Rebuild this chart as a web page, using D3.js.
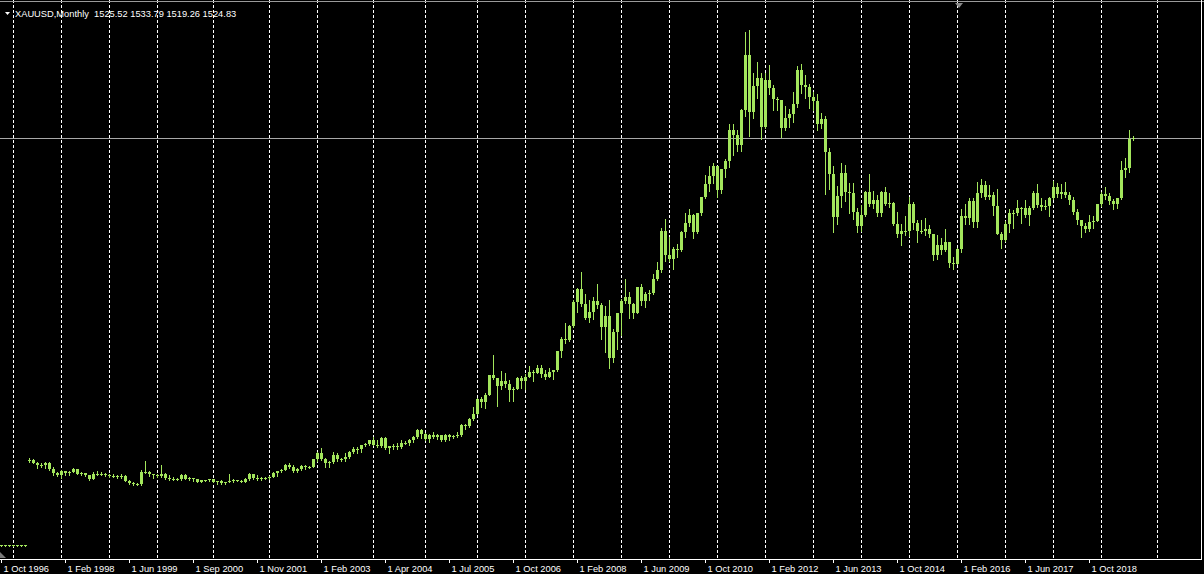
<!DOCTYPE html>
<html>
<head>
<meta charset="utf-8">
<script src="https://cdn.jsdelivr.net/npm/d3@7"></script>
<style>
  html, body { margin: 0; padding: 0; background: #000; }
  svg { display: block; }
</style>
</head>
<body>
<svg id="chart" width="1204" height="574"></svg>
<script>
// ---- DATA (bar order as in the chart; first 7 bars are the broker's bad low-value bars) ----
const symbolTitle = "XAUUSD,Monthly";
const lastQuote = "1525.52 1533.79 1519.26 1524.83";
const bidPrice = 1524.83;

const opens = [
  31,31,31,31,31,31,31,
  340,345,334,326,325,332,311,296,
  290,303,297,301,310,293,296,288,273,294,292,294,
  288,287,287,280,286,268,261,255,255,299,300,292,
  290,284,293,278,275,273,273,288,276,278,273,264,269,270,
  273,265,267,258,263,266,270,268,265,273,293,279,275,277,
  279,282,297,302,308,326,318,304,312,323,317,319,
  347,368,348,334,336,364,346,348,354,375,385,386,398,402,
  417,400,397,424,387,394,395,392,408,407,416,429,453,
  438,422,435,428,435,417,436,430,431,434,473,470,495,
  513,569,556,582,654,643,614,633,623,599,604,646,
  632,650,665,662,680,659,650,666,673,743,789,783,
  834,923,972,916,864,885,928,912,833,871,718,815,
  882,928,942,916,883,979,926,954,955,1008,1040,1182,
  1096,1081,1118,1113,1180,1213,1244,1181,1248,1307,1357,1386,
  1421,1333,1410,1439,1556,1536,1500,1628,1828,1620,1716,1746,
  1565,1738,1710,1669,1664,1560,1598,1614,1648,1773,1719,1713,
  1675,1662,1578,1596,1472,1393,1234,1313,1395,1327,1323,1253,
  1202,1244,1326,1284,1296,1250,1327,1282,1287,1211,1171,1182,
  1184,1283,1213,1183,1184,1190,1172,1095,1134,1115,1142,1065,
  1061,1117,1238,1233,1293,1215,1322,1351,1309,1316,1277,1173,
  1152,1211,1249,1249,1268,1269,1242,1269,1322,1280,1271,1275,
  1303,1345,1318,1325,1315,1299,1253,1224,1201,1192,1215,1222,
  1282,1321,1313,1292,1284,1305,1409,1414,1525.52
];
const highs = [
  32,32,32,32,32,32,32,
  350,348,335,334,337,336,317,299,
  306,305,303,315,311,300,298,290,300,303,301,297,
  293,291,290,291,290,270,263,259,307,339,303,294,
  293,326,297,290,280,277,294,291,280,279,274,271,272,275,
  274,268,269,265,293,276,272,271,279,297,294,288,281,280,
  285,300,305,311,328,332,326,316,326,326,323,349,
  373,389,352,341,372,371,352,369,376,391,393,400,405,418,
  427,417,428,428,395,404,408,417,412,420,431,456,457,
  443,439,447,439,436,441,439,434,448,475,477,497,538,
  572,574,588,655,730,643,669,664,637,610,650,651,
  658,690,673,693,692,674,683,675,745,795,846,838,
  929,975,1033,951,931,943,988,918,910,931,824,884,
  935,1006,961,918,980,989,960,966,1025,1070,1195,1227,
  1162,1126,1135,1182,1249,1265,1246,1250,1307,1388,1424,1432,
  1424,1411,1447,1576,1577,1553,1632,1912,1921,1764,1803,1764,
  1764,1791,1718,1677,1666,1641,1630,1692,1790,1796,1755,1723,
  1695,1685,1617,1605,1487,1424,1348,1434,1425,1361,1361,1268,
  1280,1332,1392,1331,1315,1332,1345,1323,1290,1255,1208,1239,
  1308,1290,1224,1224,1232,1205,1174,1170,1157,1191,1142,1088,
  1123,1263,1283,1304,1303,1362,1375,1367,1352,1326,1338,1181,
  1220,1264,1261,1296,1273,1296,1274,1331,1358,1306,1299,1309,
  1366,1361,1356,1365,1326,1309,1266,1225,1214,1243,1237,1284,
  1326,1346,1324,1302,1306,1439,1453,1555,1533.79
];
const lows = [
  30,30,30,30,30,30,30,
  338,333,314,317,316,306,290,284,
  278,289,289,300,291,290,286,271,273,288,289,285,
  282,282,278,278,267,257,252,252,253,296,287,278,
  281,281,276,272,270,271,271,275,270,268,263,263,267,268,
  262,255,256,255,262,265,266,263,264,270,276,270,272,275,
  276,280,287,300,306,316,300,301,309,311,313,317,
  342,345,320,320,334,342,342,341,351,368,370,373,395,400,
  399,392,392,386,371,383,386,387,404,399,410,425,426,
  418,411,425,421,414,414,418,426,428,432,458,466,490,
  512,538,535,582,640,542,604,611,560,561,603,608,
  603,648,635,663,649,641,649,642,672,723,772,780,
  831,886,910,862,850,860,901,786,740,681,705,751,
  802,918,866,865,882,913,905,932,951,1003,1034,1075,
  1073,1045,1087,1111,1161,1202,1157,1175,1242,1305,1329,1361,
  1309,1323,1381,1419,1462,1478,1478,1604,1532,1600,1670,1523,
  1563,1688,1627,1627,1527,1555,1564,1582,1640,1690,1672,1635,
  1626,1555,1562,1321,1338,1180,1208,1270,1292,1251,1227,1180,
  1182,1238,1277,1268,1240,1240,1280,1273,1206,1161,1131,1170,
  1167,1191,1142,1178,1170,1163,1077,1080,1098,1110,1052,1046,
  1061,1107,1208,1211,1200,1200,1310,1301,1302,1241,1171,1123,
  1146,1180,1195,1241,1214,1236,1204,1266,1271,1260,1264,1237,
  1302,1307,1303,1310,1282,1246,1211,1160,1180,1182,1196,1221,
  1276,1302,1281,1266,1267,1301,1382,1400,1519.26
];
const closes = [
  31,31,31,31,31,31,31,
  345,334,326,325,332,311,296,290,
  303,297,301,310,293,296,288,273,294,292,294,288,
  287,287,280,286,268,261,255,255,299,300,292,290,
  284,293,278,275,273,273,288,276,278,273,264,269,270,273,
  265,267,258,263,266,270,268,265,273,293,279,275,277,279,
  282,297,302,308,326,318,304,312,323,317,319,347,
  368,348,334,336,364,346,348,354,375,385,386,398,402,417,
  400,397,424,387,394,395,392,408,407,416,429,453,438,
  422,435,428,435,417,436,430,431,434,473,470,495,513,
  569,556,582,654,643,614,633,623,599,604,646,632,
  650,665,662,680,659,650,666,673,743,789,783,834,
  923,972,916,864,885,928,912,833,871,718,815,882,
  928,942,916,883,979,926,954,955,1008,1040,1182,1096,
  1081,1118,1113,1180,1213,1244,1181,1248,1307,1357,1386,1421,
  1333,1410,1439,1556,1536,1500,1628,1828,1620,1716,1746,1565,
  1738,1710,1669,1664,1560,1598,1614,1648,1773,1719,1713,1675,
  1662,1578,1596,1472,1393,1234,1313,1395,1327,1323,1253,1202,
  1244,1326,1284,1296,1250,1327,1282,1287,1211,1171,1182,1184,
  1283,1213,1183,1184,1190,1172,1095,1134,1115,1142,1065,1061,
  1117,1238,1233,1293,1215,1322,1351,1309,1316,1277,1173,1152,
  1211,1249,1249,1268,1269,1242,1269,1322,1280,1271,1275,1303,
  1345,1318,1325,1315,1299,1253,1224,1201,1192,1215,1222,1282,
  1321,1313,1292,1284,1305,1409,1414,1520,1524.83
];

// time-axis labels (every 16 bars) and year-start grid bars
const tickBars = [0,16,32,48,64,80,96,112,128,144,160,176,192,208,224,240,256,272];
const tickLabels = ["1 Oct 1996","1 Feb 1998","1 Jun 1999","1 Sep 2000","1 Nov 2001","1 Feb 2003",
  "1 Apr 2004","1 Jul 2005","1 Oct 2006","1 Feb 2008","1 Jun 2009","1 Oct 2010",
  "1 Feb 2012","1 Jun 2013","1 Oct 2014","1 Feb 2016","1 Jun 2017","1 Oct 2018"];
const gridBars = [3,15,27,39,53,67,79,93,106,119,131,143,155,167,179,191,203,215,227,239,251,263,275,289];

// ---- LAYOUT ----
const W = 1204, H = 574;
const axisY = 559, rightX = 1201;
const candleColor = "#a3e65c";

const bars = opens.map((o, i) => ({ i, o, h: highs[i], l: lows[i], c: closes[i] }));

const x = d3.scaleLinear().domain([0, 1]).range([1, 5]);          // 4 px per bar
const y = d3.scaleLinear().domain([0, 2000]).range([553.8, 8.44]);

const svg = d3.select("#chart");
svg.append("rect").attr("width", W).attr("height", H).attr("fill", "#000");

// grid
svg.append("g").selectAll("line").data(gridBars).join("line")
  .attr("x1", d => Math.round(x(d)) + 0.5).attr("x2", d => Math.round(x(d)) + 0.5)
  .attr("y1", 0).attr("y2", axisY)
  .attr("stroke", "#ffffff").attr("stroke-width", 1)
  .attr("stroke-dasharray", "3,2")
  .attr("shape-rendering", "crispEdges");

// frame
svg.append("line").attr("x1", 0).attr("x2", W).attr("y1", 1.5).attr("y2", 1.5)
  .attr("stroke", "#9a9a9a").attr("stroke-width", 1).attr("shape-rendering", "crispEdges");
svg.append("line").attr("x1", rightX + 0.5).attr("x2", rightX + 0.5).attr("y1", 0).attr("y2", axisY)
  .attr("stroke", "#ffffff").attr("shape-rendering", "crispEdges");

// bid line
const bidY = Math.round(y(bidPrice)) + 0.5;
svg.append("line").attr("x1", 0).attr("x2", rightX).attr("y1", bidY).attr("y2", bidY)
  .attr("stroke", "#a8a8a8").attr("stroke-width", 1).attr("shape-rendering", "crispEdges");

// candles
const cg = svg.append("g").attr("shape-rendering", "crispEdges");
cg.selectAll("line.wick").data(bars).join("line").attr("class", "wick")
  .attr("x1", d => Math.round(x(d.i)) + 0.5).attr("x2", d => Math.round(x(d.i)) + 0.5)
  .attr("y1", d => Math.round(y(d.h))).attr("y2", d => Math.round(y(d.l)) + 1)
  .attr("stroke", candleColor).attr("stroke-width", 1);
cg.selectAll("rect.body").data(bars).join("rect").attr("class", "body")
  .attr("x", d => Math.round(x(d.i)) - 1)
  .attr("width", 3)
  .attr("y", d => Math.round(y(Math.max(d.o, d.c))))
  .attr("height", d => Math.max(1, Math.round(y(Math.min(d.o, d.c))) - Math.round(y(Math.max(d.o, d.c)))))
  .attr("fill", candleColor);

// shift marker at top
svg.append("path").attr("d", "M955,3 L963,3 L959,8 Z").attr("fill", "#8a8a8a");
// scroll marker bottom-left
svg.append("path").attr("d", "M0,552 L0,558 L6,558 Z").attr("fill", "#7a7a7a");

// axis
svg.append("line").attr("x1", 0).attr("x2", rightX + 1).attr("y1", axisY + 0.5).attr("y2", axisY + 0.5)
  .attr("stroke", "#ffffff").attr("shape-rendering", "crispEdges");
const axis = d3.axisBottom(x).tickValues(tickBars).tickFormat((d, k) => tickLabels[k])
  .tickSize(4).tickSizeOuter(0);
const ag = svg.append("g").attr("transform", `translate(0,${axisY})`).call(axis);
ag.select(".domain").remove();
ag.selectAll(".tick line").attr("stroke", "#ffffff").attr("shape-rendering", "crispEdges");
ag.selectAll(".tick text")
  .attr("fill", "#ffffff").attr("text-anchor", "start").attr("x", 2).attr("y", 6)
  .attr("font-family", "'Liberation Sans', Arial, sans-serif").attr("font-size", "9.3px");

// title
svg.append("path").attr("d", "M5,12 L10,12 L7.5,15 Z").attr("fill", "#ffffff");
svg.append("text").attr("x", 15).attr("y", 17)
  .attr("fill", "#ffffff")
  .attr("font-family", "'Liberation Sans', Arial, sans-serif").attr("font-size", "9.3px")
  .attr("xml:space", "preserve").style("white-space", "pre")
  .text(symbolTitle + "  " + lastQuote);
</script>
</body>
</html>
